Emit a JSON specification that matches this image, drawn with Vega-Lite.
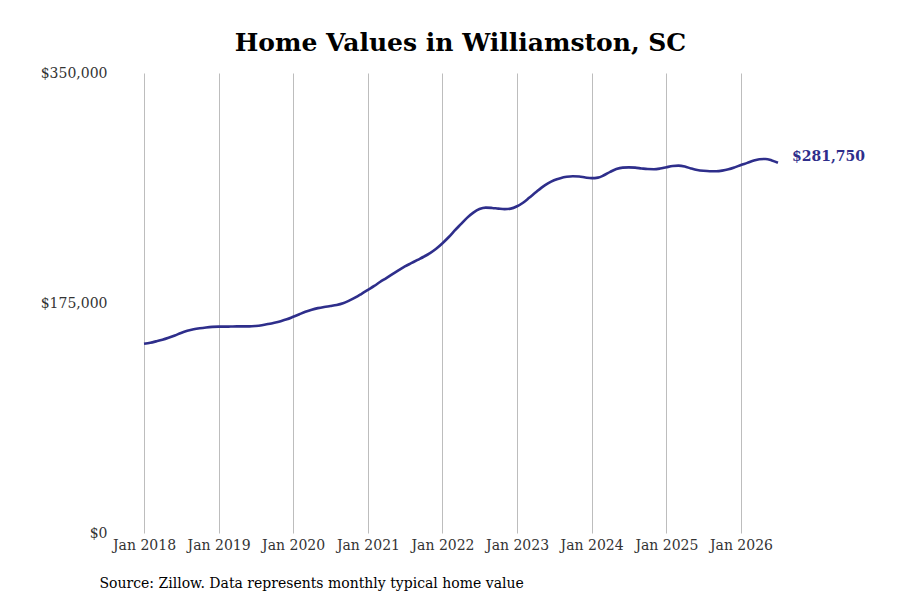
{
  "$schema": "https://vega.github.io/schema/vega-lite/v6.json",
  "autosize": {"type": "none"},
  "padding": {"left": 115, "top": 73, "right": 120, "bottom": 67},
  "width": 665,
  "height": 460,
  "background": "white",
  "title": {
    "text": "Home Values in Williamston, SC",
    "font": "DejaVu Serif",
    "fontSize": 25,
    "fontWeight": "bold",
    "color": "#000000",
    "anchor": "middle",
    "dx": 13,
    "offset": 10
  },
  "config": {
    "view": {"stroke": null},
    "font": "DejaVu Serif"
  },
  "data": {
    "values": [
      {"date": "2018-01-01", "value": 144000},
      {"date": "2018-02-01", "value": 144800},
      {"date": "2018-03-01", "value": 145800},
      {"date": "2018-04-01", "value": 147000},
      {"date": "2018-05-01", "value": 148500},
      {"date": "2018-06-01", "value": 150300},
      {"date": "2018-07-01", "value": 152200},
      {"date": "2018-08-01", "value": 153800},
      {"date": "2018-09-01", "value": 155000},
      {"date": "2018-10-01", "value": 155800},
      {"date": "2018-11-01", "value": 156400},
      {"date": "2018-12-01", "value": 156800},
      {"date": "2019-01-01", "value": 157000},
      {"date": "2019-02-01", "value": 157000},
      {"date": "2019-03-01", "value": 157100},
      {"date": "2019-04-01", "value": 157200},
      {"date": "2019-05-01", "value": 157200},
      {"date": "2019-06-01", "value": 157200},
      {"date": "2019-07-01", "value": 157500},
      {"date": "2019-08-01", "value": 158100},
      {"date": "2019-09-01", "value": 159000},
      {"date": "2019-10-01", "value": 160000},
      {"date": "2019-11-01", "value": 161200},
      {"date": "2019-12-01", "value": 162600},
      {"date": "2020-01-01", "value": 164500},
      {"date": "2020-02-01", "value": 166500},
      {"date": "2020-03-01", "value": 168300},
      {"date": "2020-04-01", "value": 169900},
      {"date": "2020-05-01", "value": 171100},
      {"date": "2020-06-01", "value": 172000},
      {"date": "2020-07-01", "value": 172700},
      {"date": "2020-08-01", "value": 173500},
      {"date": "2020-09-01", "value": 174800},
      {"date": "2020-10-01", "value": 176800},
      {"date": "2020-11-01", "value": 179200},
      {"date": "2020-12-01", "value": 182000},
      {"date": "2021-01-01", "value": 185000},
      {"date": "2021-02-01", "value": 188000},
      {"date": "2021-03-01", "value": 191000},
      {"date": "2021-04-01", "value": 194000},
      {"date": "2021-05-01", "value": 197000},
      {"date": "2021-06-01", "value": 200000},
      {"date": "2021-07-01", "value": 202800},
      {"date": "2021-08-01", "value": 205300},
      {"date": "2021-09-01", "value": 207800},
      {"date": "2021-10-01", "value": 210200},
      {"date": "2021-11-01", "value": 213000},
      {"date": "2021-12-01", "value": 216300},
      {"date": "2022-01-01", "value": 220500},
      {"date": "2022-02-01", "value": 225200},
      {"date": "2022-03-01", "value": 230000},
      {"date": "2022-04-01", "value": 235000},
      {"date": "2022-05-01", "value": 239800},
      {"date": "2022-06-01", "value": 243800},
      {"date": "2022-07-01", "value": 246500},
      {"date": "2022-08-01", "value": 247600},
      {"date": "2022-09-01", "value": 247300},
      {"date": "2022-10-01", "value": 246800},
      {"date": "2022-11-01", "value": 246400},
      {"date": "2022-12-01", "value": 246800},
      {"date": "2023-01-01", "value": 248600},
      {"date": "2023-02-01", "value": 251500},
      {"date": "2023-03-01", "value": 255000},
      {"date": "2023-04-01", "value": 259000},
      {"date": "2023-05-01", "value": 262800},
      {"date": "2023-06-01", "value": 266000},
      {"date": "2023-07-01", "value": 268400},
      {"date": "2023-08-01", "value": 270000},
      {"date": "2023-09-01", "value": 271000},
      {"date": "2023-10-01", "value": 271400},
      {"date": "2023-11-01", "value": 271200},
      {"date": "2023-12-01", "value": 270500},
      {"date": "2024-01-01", "value": 270000},
      {"date": "2024-02-01", "value": 270400},
      {"date": "2024-03-01", "value": 272200},
      {"date": "2024-04-01", "value": 274800},
      {"date": "2024-05-01", "value": 276900},
      {"date": "2024-06-01", "value": 278000},
      {"date": "2024-07-01", "value": 278200},
      {"date": "2024-08-01", "value": 278000},
      {"date": "2024-09-01", "value": 277400},
      {"date": "2024-10-01", "value": 276900},
      {"date": "2024-11-01", "value": 276800},
      {"date": "2024-12-01", "value": 277300},
      {"date": "2025-01-01", "value": 278300},
      {"date": "2025-02-01", "value": 279200},
      {"date": "2025-03-01", "value": 279500},
      {"date": "2025-04-01", "value": 278800},
      {"date": "2025-05-01", "value": 277400},
      {"date": "2025-06-01", "value": 276200},
      {"date": "2025-07-01", "value": 275600},
      {"date": "2025-08-01", "value": 275300},
      {"date": "2025-09-01", "value": 275300},
      {"date": "2025-10-01", "value": 275700},
      {"date": "2025-11-01", "value": 276700},
      {"date": "2025-12-01", "value": 278200},
      {"date": "2026-01-01", "value": 280000},
      {"date": "2026-02-01", "value": 281600},
      {"date": "2026-03-01", "value": 283200},
      {"date": "2026-04-01", "value": 284400},
      {"date": "2026-05-01", "value": 284600},
      {"date": "2026-06-01", "value": 283500},
      {"date": "2026-07-01", "value": 281750}
    ]
  },
  "encoding": {
    "x": {
      "field": "date",
      "type": "temporal",
      "scale": {
        "domain": [
          {"year": 2017, "month": 8, "date": 12},
          {"year": 2026, "month": 7, "date": 11}
        ]
      },
      "axis": {
        "title": "Source: Zillow. Data represents monthly typical home value",
        "titleFont": "DejaVu Serif",
        "titleFontSize": 14,
        "titleFontWeight": "normal",
        "titleColor": "#000000",
        "titleAnchor": "start",
        "titleAlign": "left",
        "titleBaseline": "alphabetic",
        "titleX": -16,
        "titleY": 54,
        "format": "%b %Y",
        "tickCount": {"interval": "year", "step": 1},
        "labelFont": "DejaVu Serif",
        "labelFontSize": 14,
        "labelColor": "#333333",
        "labelPadding": 5,
        "labelFlush": false,
        "labelOverlap": false,
        "grid": true,
        "gridColor": "#bdbdbd",
        "gridWidth": 1,
        "ticks": false,
        "domain": false
      }
    },
    "y": {
      "field": "value",
      "type": "quantitative",
      "scale": {"domain": [0, 350000], "nice": false},
      "axis": {
        "title": null,
        "values": [0, 175000, 350000],
        "format": "$,.0f",
        "labelFont": "DejaVu Serif",
        "labelFontSize": 14,
        "labelColor": "#333333",
        "labelPadding": 8,
        "labelFlush": false,
        "grid": false,
        "ticks": false,
        "domain": false
      }
    }
  },
  "layer": [
    {
      "mark": {
        "type": "line",
        "color": "#2e2e8b",
        "strokeWidth": 2.6,
        "interpolate": "monotone"
      }
    },
    {
      "transform": [{"filter": "datum.value == 281750"}],
      "mark": {
        "type": "text",
        "align": "left",
        "baseline": "middle",
        "dx": 14,
        "dy": -6,
        "font": "DejaVu Serif",
        "fontSize": 14,
        "fontWeight": "bold",
        "color": "#2e2e8b"
      },
      "encoding": {
        "text": {"field": "value", "type": "quantitative", "format": "$,.0f"}
      }
    }
  ]
}
